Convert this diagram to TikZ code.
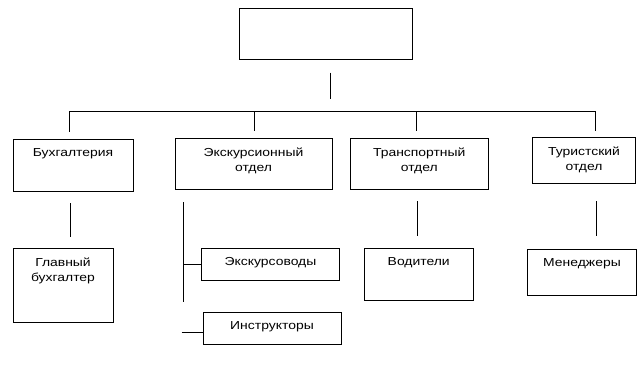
\documentclass[tikz,border=0pt]{standalone}
\usepackage{fontspec}
\setmainfont{Liberation Sans}[FakeStretch=1.2]
\begin{document}
\begin{tikzpicture}[x=1pt,y=-1pt]
\tikzset{
 box/.style={draw, line width=1pt, anchor=north west, inner sep=0pt},
 conn/.style={line width=1pt},
 lbl/.style={anchor=north, inner sep=0pt, align=center, font=\fontsize{11.6}{15}\selectfont, yshift=-9.3pt},
}
\path[use as bounding box, fill=white] (0,0) rectangle (642,376);
% boxes
\node[box, minimum width=173.5pt, minimum height=51pt] (top) at (238.5,7.5) {};
\node[box, minimum width=120pt, minimum height=52pt, label={[lbl]north:Бухгалтерия}] (buh) at (12.5,139) {};
\node[box, minimum width=157pt, minimum height=51pt, label={[lbl]north:Экскурсионный\\отдел}] (eks) at (174.5,138) {};
\node[box, minimum width=138.5pt, minimum height=51pt, label={[lbl]north:Транспортный\\отдел}] (tra) at (349.5,138) {};
\node[box, minimum width=103pt, minimum height=46pt, label={[lbl]north:Туристский\\отдел}] (tur) at (532,137) {};
\node[box, minimum width=100pt, minimum height=74pt, label={[lbl]north:Главный\\бухгалтер}] (glav) at (12.5,248) {};
\node[box, minimum width=138pt, minimum height=32pt, label={[lbl]north:Экскурсоводы}] (ekv) at (201,248) {};
\node[box, minimum width=138pt, minimum height=32pt, label={[lbl]north:Инструкторы}] (ins) at (202.5,312) {};
\node[box, minimum width=108.5pt, minimum height=52pt, label={[lbl]north:Водители}] (vod) at (364,248) {};
\node[box, minimum width=109pt, minimum height=46pt, label={[lbl]north:Менеджеры}] (men) at (527,249) {};
% coordinates
\coordinate (tj) at (330,111);
\coordinate (b1) at (69,111);
\coordinate (b2) at (254,111);
\coordinate (b3) at (416,111);
\coordinate (b4) at (595,111);
\coordinate (v1) at (70,0);
\coordinate (v3) at (417,0);
\coordinate (v4) at (596,0);
\coordinate (ee) at (183,302);
\coordinate (ie) at (181.5,332);
% connectors
\draw[conn, shorten <=13pt, shorten >=12pt] (top.south -| tj) -- (tj);
\draw[conn] (b1) -- (b4);
\draw[conn, shorten >=7pt] (b1) -- (b1 |- buh.north);
\draw[conn, shorten >=7pt] (b2) -- (b2 |- eks.north);
\draw[conn, shorten >=7pt] (b3) -- (b3 |- tra.north);
\draw[conn, shorten >=6pt] (b4) -- (b4 |- tur.north);
\draw[conn, shorten <=11pt, shorten >=11pt] (buh.south -| v1) -- (glav.north -| v1);
\draw[conn, shorten <=11pt, shorten >=12pt] (tra.south -| v3) -- (vod.north -| v3);
\draw[conn, shorten <=17pt, shorten >=13pt] (tur.south -| v4) -- (men.north -| v4);
\draw[conn, shorten <=12pt] (eks.south -| ee) -- (ee);
\draw[conn] (ekv.west) -- (ekv.west -| ee);
\draw[conn] (ie) -- (ie -| ins.west);
\end{tikzpicture}
\end{document}
